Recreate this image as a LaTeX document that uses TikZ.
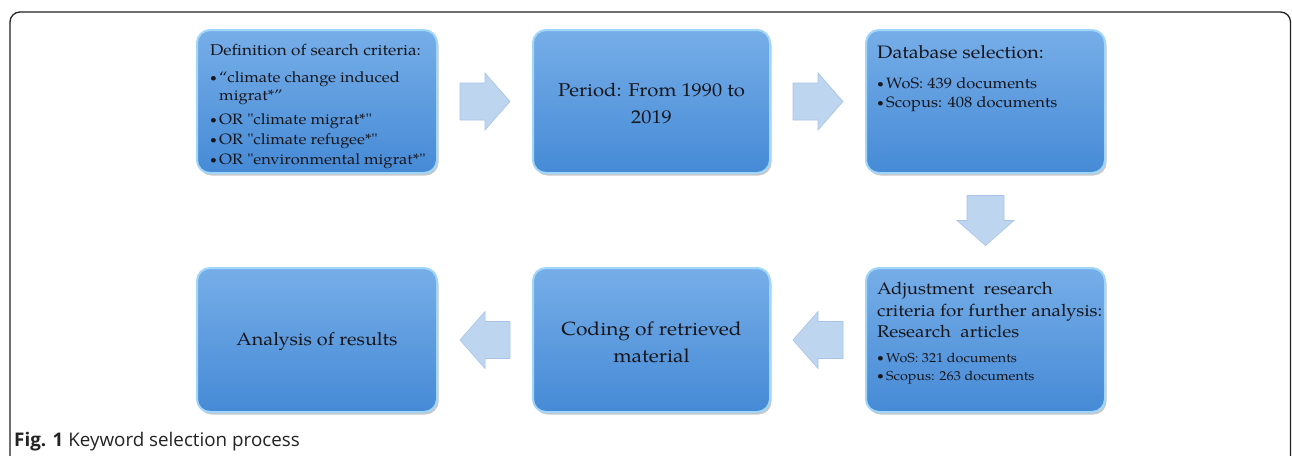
\documentclass[tikz,border=0pt]{standalone}
\usepackage{fontspec}
\setmainfont{texgyrepagella}[Extension=.otf,UprightFont=*-regular,BoldFont=*-bold,ItalicFont=*-italic,BoldItalicFont=*-bolditalic,FakeStretch=1.1,Ligatures=TeXOff]
\newfontfamily\capfont{Open Sans}
\usetikzlibrary{shadows,calc}
\definecolor{boxtop}{RGB}{118,174,232}
\definecolor{boxbot}{RGB}{70,138,214}
\definecolor{boxrim}{RGB}{160,214,250}
\definecolor{arrfill}{RGB}{190,213,240}
\definecolor{arrline}{RGB}{168,196,230}
\definecolor{framecol}{RGB}{35,35,35}
\definecolor{txt}{RGB}{22,22,28}
\newcommand\fsz[2]{\fontsize{#1}{#2}\selectfont}
\newcommand\bul{\makebox[9pt][l]{\raisebox{0.12ex}{\fontsize{11}{11}\selectfont\textbullet}}}
\begin{document}
\begin{tikzpicture}[x=1pt,y=-1pt,
  stepbox/.style={rectangle, rounded corners=13pt, minimum height=143pt,
    top color=boxtop, bottom color=boxbot, draw=boxrim, line width=2pt,
    drop shadow={fill=black!70, opacity=0.3, shadow xshift=1.5pt, shadow yshift=-2.5pt},
    inner sep=0pt},
  tl/.style={anchor=base west, inner sep=0pt, text=txt},
  tc/.style={anchor=center, inner sep=0pt, text=txt, align=center},
  blockarrow/.pic={\path[fill=arrfill, draw=arrline, line width=0.6pt]
    (-25,-18.5) -- (0,-18.5) -- (0,-28.5) -- (25,0) -- (0,28.5) -- (0,18.5) -- (-25,18.5) -- cycle;}
]
\useasboundingbox (0,0) rectangle (1292,455);
\fill[white] (0,0) rectangle (1292,455);
\draw[draw=framecol, line width=1.3pt, rounded corners=10pt] (10,460) -- (10,12) -- (1290.5,12) -- (1290.5,460);

% boxes
\node[stepbox, minimum width=240pt] (b1) at (317,101.5) {};
\node[stepbox, minimum width=237pt] (b2) at (651.5,101.5) {};
\node[stepbox, minimum width=239pt] (b3) at (985.5,101.5) {};
\node[stepbox, minimum width=239pt, minimum height=144pt] (b4) at (985.5,340) {};
\node[stepbox, minimum width=237pt, minimum height=144pt] (b5) at (651.5,340) {};
\node[stepbox, minimum width=240pt, minimum height=144pt] (b6) at (317,340) {};

% arrows
\coordinate (m12) at ($(b1.east)!0.5!(b2.west)$);
\coordinate (m23) at ($(b2.east)!0.5!(b3.west)$);
\coordinate (m34) at ($(b3.south)!0.5!(b4.north)$);
\coordinate (m45) at ($(b4.west)!0.5!(b5.east)$);
\coordinate (m56) at ($(b5.west)!0.5!(b6.east)$);
\pic at (m12) {blockarrow};
\pic at (m23) {blockarrow};
\pic[rotate=-90] at (m34) {blockarrow};
\pic[rotate=180] at (m45) {blockarrow};
\pic[rotate=180] at (m56) {blockarrow};

% box 1 text
\node[tl, font=\fsz{15.6}{20}] (d0) at (210,55.7) {Definition of search criteria:};
\node[tl, font=\fsz{15}{18}] (d1) at (210,82.3) {\bul “climate change induced};
\node[tl, font=\fsz{15}{18}] (d2) at (219,100.3) {migrat*”};
\node[tl, font=\fsz{15}{18}] (d3) at (210,124.3) {\bul OR "climate migrat*"};
\node[tl, font=\fsz{15}{18}] (d4) at (210,144.3) {\bul OR "climate refugee*"};
\node[tl, font=\fsz{15}{18}] (d5) at (210,164.3) {\bul OR "environmental migrat*"};

% box 2 text
\node[tc, font=\fsz{18.5}{27}] (p0) at (651.5,103) {Period: From 1990 to\\2019};

% box 3 text
\node[tl, font=\fsz{18}{22}] (s0) at (877,58) {Database selection:};
\node[tl, font=\fsz{15}{18}] (s1) at (877,88) {\bul WoS: 439 documents};
\node[tl, font=\fsz{15}{18}] (s2) at (877,107) {\bul Scopus: 408 documents};

% box 4 text
\node[tl, font=\fsz{17}{20}] (a0) at (877,294) {Adjustment\ \ research};
\node[tl, font=\fsz{17}{20}] (a1) at (877,316) {criteria for further analysis:};
\node[tl, font=\fsz{17}{20}] (a2) at (877,337) {Research\ \ articles};
\node[tl, font=\fsz{13}{15}] (a3) at (877,362) {\bul WoS: 321 documents};
\node[tl, font=\fsz{13}{15}] (a4) at (877,380) {\bul Scopus: 263 documents};

% box 5 and 6 text
\node[tc, font=\fsz{19}{27}] (c0) at (651.5,342) {Coding of retrieved\\material};
\node[tc, font=\fsz{18}{24}] (r0) at (317,341) {Analysis of results};

% caption
\node[anchor=base west, inner sep=0pt, text=framecol, font=\capfont\fsz{18.8}{22}] (cap) at (14,446) {\textbf{Fig. 1} Keyword selection process};
\end{tikzpicture}
\end{document}
